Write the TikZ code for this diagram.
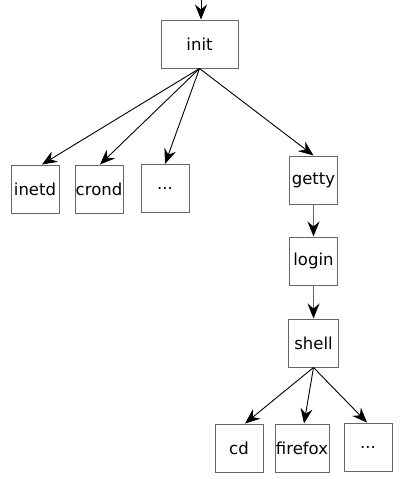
\documentclass[tikz,border=0pt]{standalone}
\usepackage{fontspec}
\setmainfont{DejaVu Sans}
\usetikzlibrary{arrows.meta}
\begin{document}
\begin{tikzpicture}[x=1pt,y=-1pt,
  box/.style={draw=black!60, line width=1pt, fill=white, inner sep=0pt,
    minimum width=48pt, minimum height=48pt, font=\fontsize{16.5}{19}\selectfont},
  conn/.style={line width=0.9pt, draw=black, -{Stealth[length=15pt,width=12pt,inset=5pt,color=black]}},
  vconn/.style={conn, draw=black!60, line width=1.3pt}]
\useasboundingbox (0,0) rectangle (403,479);
\node[box, minimum width=77pt] (init) at (199.5,44) {init};
\node[box] (inetd) at (35,189) {inetd};
\node[box] (crond) at (99,189) {crond};
\node[box] (dotsA) at (165,188.5) {...};
\node[box] (getty) at (313.5,180) {getty};
\node[box] (login) at (313.5,261) {login};
\node[box, minimum width=50pt] (shell) at (313.5,343) {shell};
\node[box] (cd) at (239,448) {cd};
\node[box, minimum width=54pt] (firefox) at (302,448) {firefox};
\node[box] (dotsB) at (368,447) {...};
\coordinate (top) at (init.north |- 0,0);
\draw[conn] ([xshift=1.5pt]top) -- ([xshift=1.5pt]init.north);
\draw[conn] (init.south) -- ([xshift=7pt]inetd.north);
\draw[conn] (init.south) -- ([xshift=1pt]crond.north);
\draw[conn] (init.south) -- (dotsA.north);
\draw[conn] (init.south) -- (getty.north);
\draw[vconn] (getty.south) -- (login.north);
\draw[vconn] (login.south) -- (shell.north);
\draw[conn] (shell.south) -- ([xshift=6pt]cd.north);
\draw[conn] (shell.south) -- ([xshift=2pt]firefox.north);
\draw[conn] (shell.south) -- ([xshift=-1pt]dotsB.north);
\end{tikzpicture}
\end{document}
